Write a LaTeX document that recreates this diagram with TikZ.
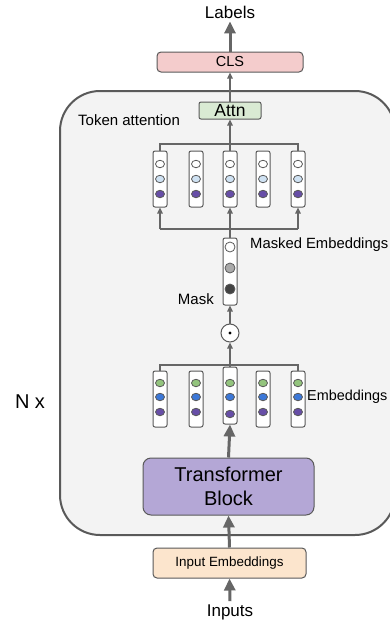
\documentclass[tikz,border=0pt]{standalone}
\usepackage{fontspec}
\setmainfont{Liberation Sans}
\usetikzlibrary{arrows.meta,shapes.geometric}
\definecolor{edge}{HTML}{595959}
\definecolor{arr}{HTML}{666666}
\definecolor{boxbg}{HTML}{F3F3F3}
\definecolor{clsfill}{HTML}{F4CCCC}
\definecolor{attnfill}{HTML}{D9EAD3}
\definecolor{tbfill}{HTML}{B4A7D6}
\definecolor{iefill}{HTML}{FCE5CD}
\definecolor{cwhite}{HTML}{FFFFFF}
\definecolor{clblue}{HTML}{CFE2F3}
\definecolor{cpurple}{HTML}{674EA7}
\definecolor{cgreen}{HTML}{93C47D}
\definecolor{cblue}{HTML}{3C78D8}
\definecolor{cgray}{HTML}{AAAAAA}
\definecolor{cdark}{HTML}{434343}
\tikzset{
  outerbox/.style={draw=edge, line width=2, fill=boxbg, rounded corners=40, inner sep=0},
  lbl/.style={inner sep=0, text=black},
  rbox/.style={draw=edge, line width=1, rounded corners=4, inner sep=0},
  col/.style={draw=edge, line width=1, fill=white, rounded corners=2, minimum width=14, minimum height=56, inner sep=0},
  dotc/.style={ellipse, draw=edge, line width=0.8, minimum width=9, minimum height=7.5, inner sep=0},
  mdot/.style={circle, draw=edge, line width=0.8, minimum size=10, inner sep=0},
  conn/.style={draw=arr, line width=1.2},
  thinarrow/.style={draw=arr, line width=1.2, -{Triangle[length=6pt,width=5.5pt]}},
  thickarrow/.style={draw=arr, line width=3, -{Triangle[length=12pt,width=11pt]}}
}
\begin{document}
\begin{tikzpicture}[x=1pt,y=-1pt]
\useasboundingbox (0,0) rectangle (390,624);
% outer container
\node[outerbox, minimum width=335, minimum height=444] (outer) at (227.5,313) {};
\node[lbl, font=\fontsize{20}{24}\selectfont] (nx) at (30,402) {N x};
\node[lbl, anchor=west, font=\fontsize{15}{18}\selectfont] (tokatt) at (78,120) {Token attention};

% top
\node[lbl, font=\fontsize{17}{20}\selectfont, inner sep=3] (labels) at (230,12) {Labels};
\node[rbox, fill=clsfill, minimum width=146, minimum height=20, font=\fontsize{14.5}{17}\selectfont] (cls) at (230,62) {CLS};
\node[rbox, fill=attnfill, minimum width=62, minimum height=17, rounded corners=2, font=\fontsize{17.5}{20}\selectfont] (attn) at (230,110.5) {Attn};

% top embedding columns
\foreach \i/\x in {1/160,2/196,3/230,4/263,5/298}{
  \node[col] (t\i) at (\x,179) {};
  \node[dotc, fill=cwhite] (t\i a) at (\x,164) {};
  \node[dotc, fill=clblue] (t\i b) at (\x,179) {};
  \node[dotc, fill=cpurple] (t\i c) at (\x,194) {};
}
\draw[conn] (t1.north) -- (t1.north |- 0,144) -- (t5.north |- 0,144) -- (t5.north);
\draw[thinarrow] (t3.north) -- (attn.south);
\draw[thinarrow] (attn.north) -- (cls.south);
\draw[thickarrow] (cls.north) -- (labels.south);

% masked embeddings
\node[col, minimum height=67] (m) at (230,271.5) {};
\node[mdot, fill=cwhite] (ma) at (230,247) {};
\node[mdot, fill=cgray] (mb) at (230,268) {};
\node[mdot, fill=cdark] (mc) at (230,289) {};
\node[lbl, anchor=west, font=\fontsize{14.8}{18}\selectfont] (mlabel) at (250,245) {Masked Embeddings};
\node[lbl, anchor=east, font=\fontsize{15}{18}\selectfont] (mask) at (214,299) {Mask};
\draw[conn] (m.north) -- (m.north |- 0,229);
\coordinate (bl) at (t1.south |- 0,229);
\coordinate (br) at (t5.south |- 0,229);
\draw[conn] (bl) -- (br);
\draw[thinarrow] (bl) -- (t1.south);
\draw[thinarrow] (br) -- (t5.south);
\draw[thinarrow] (m.north) -- (t3.south);

% odot
\node[circle, draw=edge, line width=1, fill=white, minimum size=18, inner sep=0] (od) at (230,333) {};
\fill[black] (od.center) circle (1.6);
\draw[thinarrow] (od.north) -- (m.south);

% bottom embeddings
\foreach \i/\x in {1/160,2/196,4/263,5/298}{
  \node[col] (e\i) at (\x,399) {};
  \node[dotc, fill=cgreen] (e\i a) at (\x,383) {};
  \node[dotc, fill=cblue] (e\i b) at (\x,397) {};
  \node[dotc, fill=cpurple] (e\i c) at (\x,412) {};
}
\node[col, minimum height=57] (e3) at (230,395.5) {};
\node[dotc, fill=cgreen] (e3a) at (230,383) {};
\node[dotc, fill=cblue] (e3b) at (230,397) {};
\node[dotc, fill=cpurple] (e3c) at (230,414) {};
\node[lbl, anchor=west, font=\fontsize{14.4}{17}\selectfont] (elabel) at (307,397) {Embeddings};
\draw[conn] (e1.north) -- (e1.north |- 0,365) -- (e5.north |- 0,365) -- (e5.north);
\draw[thinarrow] (e3.north) -- (od.south);

% transformer block
\node[rbox, fill=tbfill, minimum width=171, minimum height=57, rounded corners=8, align=center, font=\fontsize{20}{24}\selectfont] (tb) at (228.5,486.5) {Transformer\\Block};
\draw[thickarrow] (tb.north) -- (e3.south);

% input embeddings
\node[rbox, fill=iefill, minimum width=153, minimum height=30, font=\fontsize{13.4}{16}\selectfont] (ie) at (229.5,563) {Input Embeddings};
\draw[thickarrow] (ie.north) -- (tb.south);
\node[lbl, font=\fontsize{17}{20}\selectfont, inner sep=3] (inputs) at (230,612) {Inputs};
\draw[thickarrow] (inputs.north) -- (ie.south);
\end{tikzpicture}
\end{document}
